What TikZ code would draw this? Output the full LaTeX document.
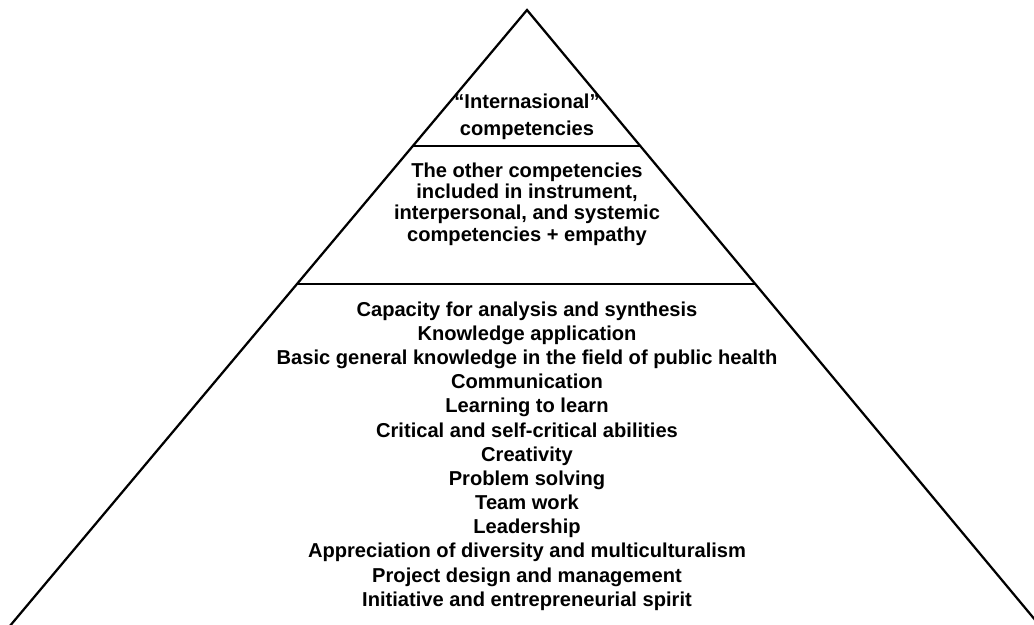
\documentclass[tikz,border=0pt]{standalone}
\usepackage{fontspec}
\setmainfont{Liberation Sans}
\usetikzlibrary{positioning}
\tikzstyle{level} = [align=center, inner sep=0pt]
\tikzstyle{edge} = [line width=1.6pt, black]

\begin{document}
\begin{tikzpicture}[x=0.025cm, y=-0.025cm]
\useasboundingbox (0,0) rectangle (1034,625);
\clip (0,0) rectangle (1034,625);
% Pyramid outline
\coordinate (apex) at (527,10);
\coordinate (bl) at (4,633);
\coordinate (br) at (1046,633);
\draw[edge] (bl) -- (apex) -- (br);

% Divisions
\coordinate (d1l) at (412,146);
\coordinate (d1r) at (641,146);
\coordinate (d2l) at (297,284);
\coordinate (d2r) at (756,284);
\draw[edge] (d1l) -- (d1r);
\draw[edge] (d2l) -- (d2r);

% Texts
\node[level, font=\bfseries\fontsize{14.3}{19.1}\selectfont] (top) at (527,117) {``Internasional''\\competencies};
\node[level, font=\bfseries\fontsize{14.3}{15.2}\selectfont] (mid) at (527,204) {The other competencies\\included in instrument,\\interpersonal, and systemic\\competencies + empathy};
\node[level, font=\bfseries\fontsize{14.3}{17.2}\selectfont] (base) at (527,456) {Capacity for analysis and synthesis\\
Knowledge application\\
Basic general knowledge in the field of public health\\
Communication\\
Learning to learn\\
Critical and self-critical abilities\\
Creativity\\
Problem solving\\
Team work\\
Leadership\\
Appreciation of diversity and multiculturalism\\
Project design and management\\
Initiative and entrepreneurial spirit};
\end{tikzpicture}
\end{document}
